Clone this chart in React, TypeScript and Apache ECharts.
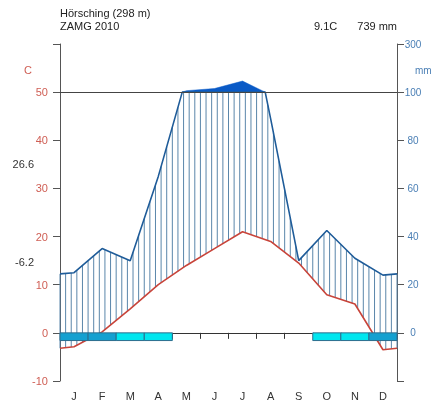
import React, { useEffect, useRef } from 'react';
import * as echarts from 'echarts';

// ---- data (Walter-Lieth climate diagram) ----
const months = ['J', 'F', 'M', 'A', 'M', 'J', 'J', 'A', 'S', 'O', 'N', 'D'];
const temperature = [-2.9, 0.2, 5.0, 10.0, 14.0, 17.5, 21.0, 19.0, 14.5, 7.9, 6.0, -3.5];
const precipitation = [25, 35, 30, 65, 106, 115, 146, 89, 30, 42.5, 31, 24];
const sureFrost = [1, 1, 0, 0, 0, 0, 0, 0, 0, 0, 0, 1];
const probableFrost = [0, 0, 1, 1, 0, 0, 0, 0, 0, 1, 1, 0];
const tempAxisLabels = ['-10', '0', '10', '20', '30', '40', '50', ''];
const precAxisLabels = ['', '0', '20', '40', '60', '80', '100', '300'];
const station = 'Hörsching (298 m)';
const source = 'ZAMG 2010';
const meanTempText = '9.1C';
const annualPrecText = '739 mm';
const absMaxText = '26.6';
const absMinText = '-6.2';

// ---- helpers ----
const HATCH_PER_MONTH = 5;
const FROST_DEPTH = 1.6;
const extend = (a: number[]) => {
  const e = (a[0] + a[a.length - 1]) / 2;
  return [e, ...a, e];
};
const extX = [0, ...months.map((_, i) => i + 0.5), months.length];
const extT = extend(temperature);
const extP = extend(precipitation);
const interp = (xs: number[], ys: number[], x: number) => {
  for (let i = 0; i < xs.length - 1; i++) {
    if (x >= xs[i] && x <= xs[i + 1]) {
      const f = (x - xs[i]) / (xs[i + 1] - xs[i]);
      return ys[i] + f * (ys[i + 1] - ys[i]);
    }
  }
  return ys[ys.length - 1];
};
const scaleP = (p: number) => (p <= 100 ? p / 2 : 50 + (p - 100) / 20);

// precipitation curve with the 100 mm crossings inserted
const precCurve: number[][] = [];
for (let i = 0; i < extX.length; i++) {
  precCurve.push([extX[i], extP[i]]);
  if (i < extX.length - 1) {
    const a = extP[i];
    const b = extP[i + 1];
    if ((a - 100) * (b - 100) < 0) {
      const f = (100 - a) / (b - a);
      precCurve.push([extX[i] + f * (extX[i + 1] - extX[i]), 100]);
    }
  }
}
const wetRuns: number[][][] = [];
let run: number[][] = [];
precCurve.forEach((pt) => {
  if (pt[1] >= 100) run.push(pt);
  else {
    if (run.length > 1) wetRuns.push(run);
    run = [];
  }
});
if (run.length > 1) wetRuns.push(run);

const TEMP_COLOR = '#c8443a';
const PREC_COLOR = '#1f5c99';
const FONT = 'Liberation Sans, Arial, sans-serif';

export default function App() {
  const ref = useRef<HTMLDivElement>(null);
  useEffect(() => {
    const chart = echarts.init(ref.current!, undefined, { renderer: 'svg' });
    const option: any = {
      animation: false,
      textStyle: { fontFamily: FONT },
      grid: { left: 60, right: 36, top: 44, bottom: 22, containLabel: false },
      xAxis: [
        { type: 'value', min: 0, max: 12, show: false },
        {
          type: 'category',
          data: months,
          position: 'bottom',
          axisLine: { show: false, onZero: false },
          axisTick: { show: false },
          axisLabel: { margin: 9, color: '#333', fontSize: 11, fontFamily: FONT },
        },
        {
          type: 'category',
          data: months,
          position: 'bottom',
          axisLine: { show: true, onZero: true, lineStyle: { color: '#333', width: 1 } },
          axisTick: { show: true, length: 6, lineStyle: { color: '#333' } },
          axisLabel: { show: false },
        },
      ],
      yAxis: [
        {
          type: 'value',
          position: 'left',
          min: -10,
          max: 60,
          interval: 10,
          splitLine: { show: false },
          axisLine: { show: true, onZero: false, lineStyle: { color: '#555' } },
          axisTick: { show: true, length: 7, lineStyle: { color: '#555' } },
          axisLabel: {
            margin: 12,
            color: '#cf5e54',
            fontSize: 11,
            fontFamily: FONT,
            formatter: (v: number) => tempAxisLabels[Math.round((v + 10) / 10)] ?? '',
          },
        },
        {
          type: 'value',
          position: 'right',
          min: -20,
          max: 120,
          interval: 20,
          splitLine: { show: false },
          axisLine: { show: true, onZero: false, lineStyle: { color: '#555' } },
          axisTick: { show: true, length: 7, lineStyle: { color: '#555' } },
          axisLabel: {
            margin: 16,
            align: 'center',
            color: '#4a7fb5',
            fontSize: 10,
            fontFamily: FONT,
            formatter: (v: number) => precAxisLabels[Math.round((v + 20) / 20)] ?? '',
          },
        },
      ],
      series: [
        {
          type: 'custom',
          name: 'hatch',
          xAxisIndex: 0,
          yAxisIndex: 0,
          z: 1,
          silent: true,
          data: Array.from({ length: months.length * HATCH_PER_MONTH + 1 }, (_, k) => [k / HATCH_PER_MONTH, 0]),
          renderItem: (params: any, api: any) => {
            const x = api.value(0);
            const t = interp(extX, extT, x);
            const s = Math.min(interp(extX, extP, x), 100) / 2;
            const a = api.coord([x, t]);
            const b = api.coord([x, s]);
            const humid = s > t;
            return {
              type: 'line',
              shape: { x1: a[0], y1: a[1], x2: b[0], y2: b[1] },
              style: humid
                ? { stroke: '#5a86aa', lineWidth: 1 }
                : { stroke: TEMP_COLOR, lineWidth: 1, lineDash: [1, 2] },
            };
          },
        },
        {
          type: 'line',
          name: 'temperature',
          xAxisIndex: 0,
          yAxisIndex: 0,
          z: 2,
          symbol: 'none',
          data: extX.map((x, i) => [x, extT[i]]),
          lineStyle: { color: TEMP_COLOR, width: 1.6 },
          markLine: {
            silent: true,
            symbol: 'none',
            label: { show: false },
            lineStyle: { color: '#444', width: 1, type: 'solid' },
            data: [{ yAxis: 50 }],
          },
        },
        {
          type: 'line',
          name: 'precipitation',
          xAxisIndex: 0,
          yAxisIndex: 0,
          z: 3,
          symbol: 'none',
          data: precCurve.map(([x, p]) => [x, Math.min(p, 100) / 2]),
          lineStyle: { color: PREC_COLOR, width: 1.6 },
        },
        {
          type: 'custom',
          name: 'excess',
          xAxisIndex: 0,
          yAxisIndex: 0,
          z: 3,
          silent: true,
          data: [[0, 0]],
          renderItem: (params: any, api: any) => ({
            type: 'group',
            children: wetRuns.map((r) => ({
              type: 'polygon',
              shape: {
                points: [
                  ...r.map(([x, p]) => api.coord([x, scaleP(p)])),
                  ...r
                    .slice()
                    .reverse()
                    .map(([x]) => api.coord([x, 50])),
                ],
              },
              style: { fill: '#0a5ac6', stroke: '#0a5ac6', lineWidth: 0.5 },
            })),
          }),
        },
        {
          type: 'custom',
          name: 'frost',
          xAxisIndex: 0,
          yAxisIndex: 0,
          z: 5,
          silent: true,
          data: months
            .map((_, i) => [i, sureFrost[i] ? 1 : probableFrost[i] ? 2 : 0])
            .filter((d) => d[1] > 0),
          renderItem: (params: any, api: any) => {
            const i = api.value(0);
            const kind = api.value(1);
            const p0 = api.coord([i, 0]);
            const p1 = api.coord([i + 1, -FROST_DEPTH]);
            return {
              type: 'rect',
              shape: { x: p0[0], y: p0[1], width: p1[0] - p0[0], height: p1[1] - p0[1] },
              style: { fill: kind === 1 ? '#14a0d0' : '#00e6ef', stroke: '#2d6e8e', lineWidth: 1 },
            };
          },
        },
      ],
      graphic: [
        { type: 'text', left: 60, top: 7, style: { text: station, fill: '#222', font: `11px ${FONT}` } },
        { type: 'text', left: 60, top: 20, style: { text: source, fill: '#222', font: `11px ${FONT}` } },
        { type: 'text', left: 314, top: 20, style: { text: meanTempText, fill: '#222', font: `11px ${FONT}` } },
        { type: 'text', right: 36, top: 20, style: { text: annualPrecText, fill: '#222', font: `11px ${FONT}` } },
        { type: 'text', left: 24, top: 64, style: { text: 'C', fill: '#cf5e54', font: `11px ${FONT}` } },
        { type: 'text', left: 415, top: 65, style: { text: 'mm', fill: '#4a7fb5', font: `10px ${FONT}` } },
        { type: 'text', right: 399, top: 158, style: { text: absMaxText, fill: '#333', font: `11px ${FONT}` } },
        { type: 'text', right: 399, top: 256, style: { text: absMinText, fill: '#333', font: `11px ${FONT}` } },
      ],
    };
    chart.setOption(option);
    return () => chart.dispose();
  }, []);
  return <div ref={ref} style={{ position: 'fixed', left: 0, top: 0, width: 433, height: 403 }} />;
}
